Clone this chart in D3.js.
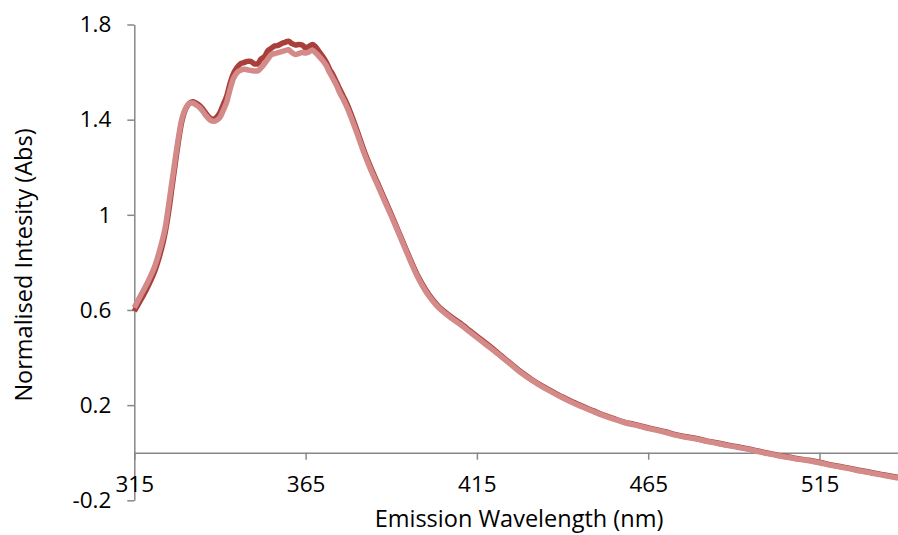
<!DOCTYPE html>
<html>
<head>
<meta charset="utf-8">
<script src="https://cdn.jsdelivr.net/npm/d3@7"></script>
<style>
  body { margin: 0; background: #fff; }
  text { font-family: "Open Sans", sans-serif; fill: #000; }
</style>
</head>
<body>
<div id="chart"></div>
<script>
// wavelengths (nm)
const WAVELENGTHS = [315, 317, 319, 321, 323, 324, 325, 326, 327, 328, 329, 330, 331, 332, 333, 334, 335, 336, 337, 338,
  339, 340, 341, 342, 343, 344, 345, 346, 347, 348, 349, 350, 351, 352, 353, 354, 355, 356, 357, 358,
  359, 360, 361, 362, 363, 364, 365, 366, 367, 368, 369, 370, 371, 372, 373, 374, 375, 376, 377, 378,
  380, 382, 384, 386, 388, 390, 392, 394, 396, 398, 400, 402, 404, 406, 408, 410, 413, 416, 419, 422,
  425, 428, 431, 434, 437, 440, 443, 446, 449, 452, 455, 458, 461, 464, 467, 470, 473, 476, 479, 482,
  485, 488, 491, 494, 497, 500, 503, 506, 509, 512, 515, 518, 521, 524, 527, 530, 533, 536, 538];

// dark red series
const SERIES_DARK = [0.595, 0.645, 0.700, 0.765, 0.860, 0.925, 1.010, 1.115, 1.220, 1.320, 1.400, 1.445, 1.468, 1.475, 1.470, 1.460, 1.445, 1.425, 1.408, 1.402,
  1.410, 1.430, 1.465, 1.500, 1.555, 1.595, 1.620, 1.635, 1.640, 1.645, 1.645, 1.635, 1.635, 1.655, 1.665, 1.690, 1.700, 1.710, 1.712, 1.720,
  1.725, 1.730, 1.720, 1.714, 1.716, 1.714, 1.702, 1.708, 1.716, 1.705, 1.685, 1.665, 1.642, 1.612, 1.588, 1.558, 1.527, 1.498, 1.468, 1.433,
  1.355, 1.272, 1.200, 1.134, 1.068, 1.002, 0.934, 0.866, 0.798, 0.736, 0.686, 0.645, 0.612, 0.588, 0.566, 0.546, 0.512, 0.478, 0.445, 0.409,
  0.373, 0.338, 0.308, 0.281, 0.257, 0.234, 0.213, 0.194, 0.176, 0.158, 0.143, 0.129, 0.119, 0.108, 0.098, 0.088, 0.076, 0.067, 0.060, 0.050,
  0.042, 0.033, 0.025, 0.017, 0.007, -0.002, -0.011, -0.018, -0.026, -0.032, -0.040, -0.050, -0.058, -0.066, -0.075, -0.083, -0.091, -0.099, -0.104];

// light pink series
const SERIES_LIGHT = [0.610, 0.665, 0.720, 0.785, 0.883, 0.945, 1.040, 1.140, 1.240, 1.335, 1.410, 1.448, 1.468, 1.470, 1.462, 1.452, 1.435, 1.415, 1.400, 1.393,
  1.397, 1.410, 1.440, 1.475, 1.530, 1.575, 1.598, 1.608, 1.612, 1.610, 1.607, 1.605, 1.605, 1.618, 1.635, 1.655, 1.673, 1.678, 1.682, 1.686,
  1.690, 1.694, 1.682, 1.674, 1.678, 1.682, 1.680, 1.685, 1.692, 1.680, 1.665, 1.648, 1.628, 1.598, 1.572, 1.545, 1.512, 1.485, 1.455, 1.420,
  1.343, 1.262, 1.190, 1.126, 1.060, 0.995, 0.928, 0.860, 0.792, 0.730, 0.680, 0.640, 0.607, 0.583, 0.561, 0.541, 0.507, 0.473, 0.440, 0.405,
  0.370, 0.335, 0.305, 0.278, 0.254, 0.231, 0.210, 0.191, 0.173, 0.156, 0.141, 0.127, 0.117, 0.106, 0.096, 0.086, 0.074, 0.065, 0.058, 0.048,
  0.040, 0.031, 0.023, 0.015, 0.005, -0.004, -0.013, -0.020, -0.028, -0.034, -0.042, -0.052, -0.060, -0.068, -0.077, -0.085, -0.093, -0.101, -0.106];

const X_TICKS = [315, 365, 415, 465, 515];
const Y_TICKS = [-0.2, 0.2, 0.6, 1, 1.4, 1.8];

const DARK_COLOUR = "#A83F3B";
const LIGHT_COLOUR = "#D38A89";
const AXIS_COLOUR = "#878787";

var width = 898, height = 535;
var svg = d3.select("#chart").append("svg")
  .attr("width", width)
  .attr("height", height);

var x = d3.scaleLinear().domain([315, 538]).range([134.3, 898.3]);
var y = d3.scaleLinear().domain([-0.2, 1.8]).range([500.3, 24.5]);

// y axis
var yAxis = svg.append("g")
  .attr("transform", "translate(" + x(315) + ",0)")
  .call(d3.axisLeft(y).tickValues(Y_TICKS).tickSize(7).tickSizeOuter(0).tickPadding(16)
    .tickFormat(function(d) { return String(+d.toFixed(1)); }));
yAxis.select(".domain").attr("stroke", AXIS_COLOUR).attr("stroke-width", 1.5);
yAxis.selectAll(".tick line").attr("stroke", AXIS_COLOUR).attr("stroke-width", 1.5);
yAxis.selectAll(".tick text").attr("font-size", "22.5px").attr("fill", "#000")
  .attr("font-family", "Open Sans");

// x axis crossing at zero
var xAxis = svg.append("g")
  .attr("transform", "translate(0," + y(0) + ")")
  .call(d3.axisBottom(x).tickValues(X_TICKS).tickSize(7).tickSizeOuter(0).tickPadding(16));
xAxis.select(".domain").attr("stroke", AXIS_COLOUR).attr("stroke-width", 1.5);
xAxis.selectAll(".tick line").attr("stroke", AXIS_COLOUR).attr("stroke-width", 1.5);
xAxis.selectAll(".tick text").attr("font-size", "22.5px").attr("fill", "#000")
  .attr("font-family", "Open Sans");

// lines
var line = d3.line()
  .x(function(d, i) { return x(WAVELENGTHS[i]); })
  .y(function(d) { return y(d); })
  .curve(d3.curveCatmullRom);

svg.append("path")
  .datum(SERIES_DARK)
  .attr("fill", "none")
  .attr("stroke", DARK_COLOUR)
  .attr("stroke-width", 5.5)
  .attr("stroke-linejoin", "round")
  .attr("d", line);

svg.append("path")
  .datum(SERIES_LIGHT)
  .attr("fill", "none")
  .attr("stroke", LIGHT_COLOUR)
  .attr("stroke-width", 5.5)
  .attr("stroke-linejoin", "round")
  .attr("d", line);

// axis titles
svg.append("text")
  .attr("x", 519)
  .attr("y", 527)
  .attr("text-anchor", "middle")
  .attr("font-size", "23.5px")
  .text("Emission Wavelength (nm)");

svg.append("text")
  .attr("transform", "translate(32,265) rotate(-90)")
  .attr("text-anchor", "middle")
  .attr("font-size", "23.5px")
  .text("Normalised Intesity (Abs)");
</script>
</body>
</html>
